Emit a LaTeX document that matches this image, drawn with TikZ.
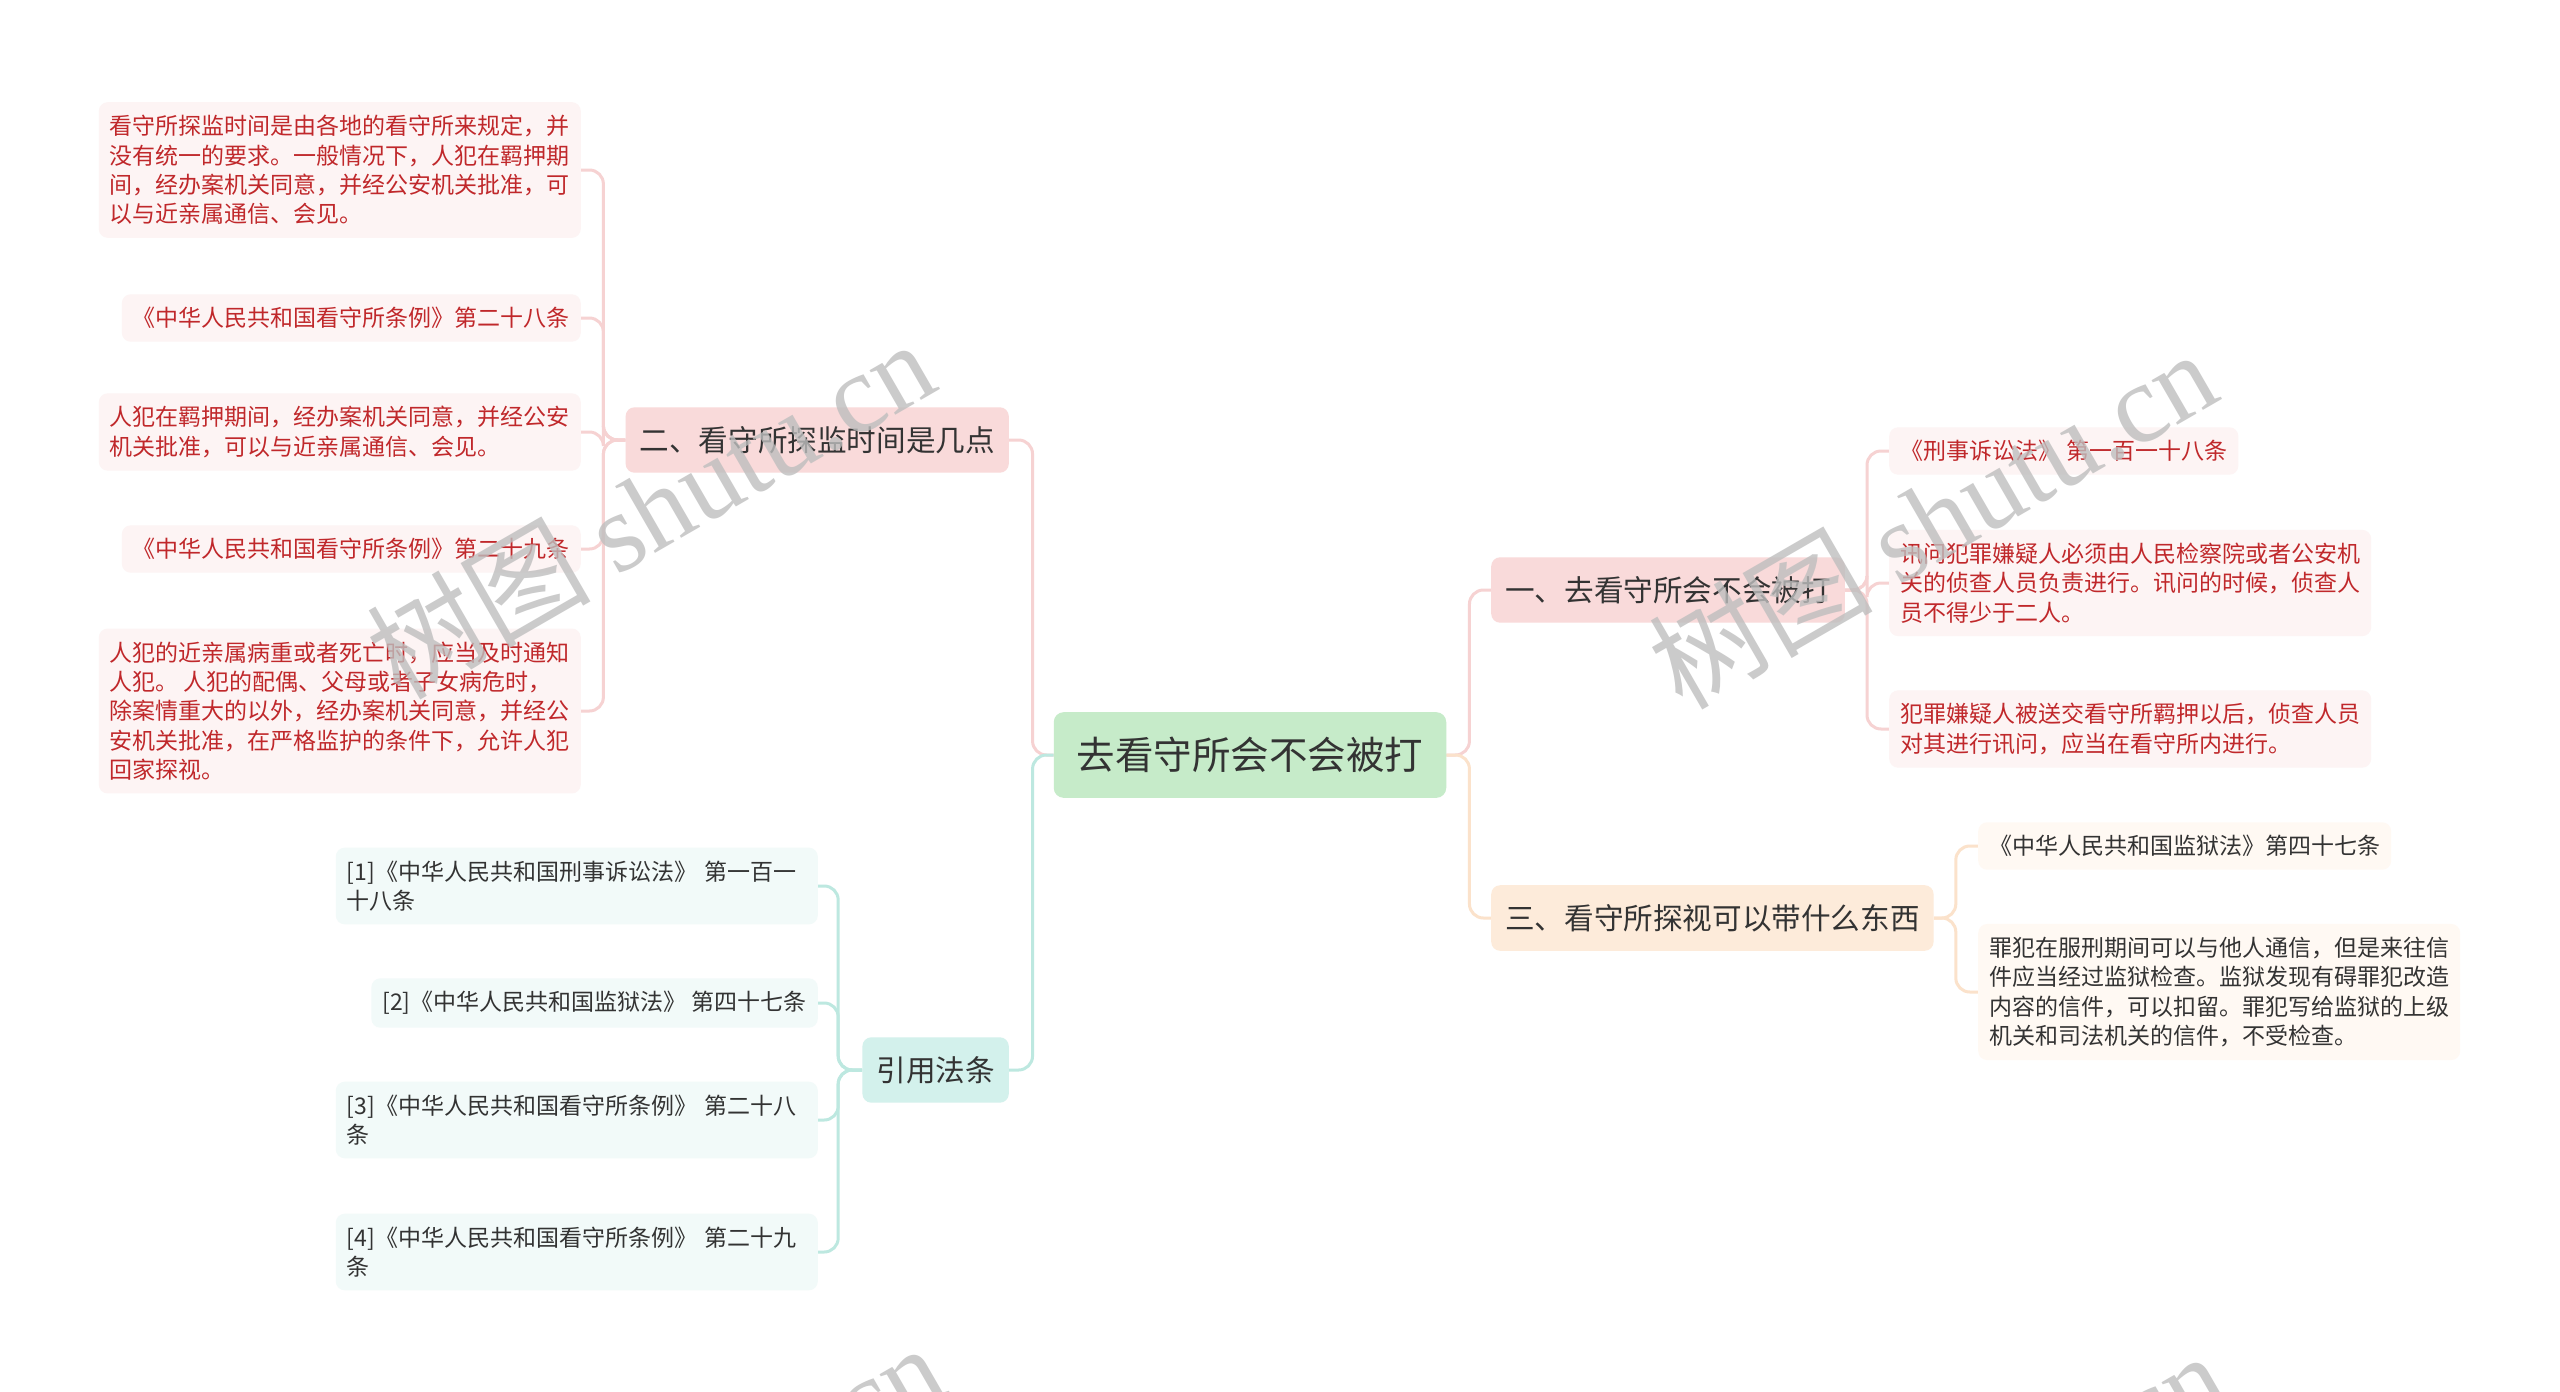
\documentclass[tikz,border=0pt]{standalone}
\usepackage{fontspec}
\usetikzlibrary{backgrounds}
\setmainfont{Noto Sans CJK SC}
\newfontfamily\wmlat{Liberation Serif}
\newfontfamily\wmcjk{Noto Sans CJK SC}
\definecolor{centerfill}{HTML}{C6EBC9}
\definecolor{pinkfill}{HTML}{F9DADA}
\definecolor{peachfill}{HTML}{FDEBDA}
\definecolor{tealfill}{HTML}{D3F1EC}
\definecolor{leafRfill}{HTML}{FDF4F4}
\definecolor{leafRtext}{HTML}{C0282B}
\definecolor{leafPfill}{HTML}{FFF9F3}
\definecolor{leafTfill}{HTML}{F2FAF9}
\definecolor{darktext}{HTML}{333333}
\definecolor{pinkline}{HTML}{F6D2D2}
\definecolor{tealline}{HTML}{BDE8E0}
\definecolor{peachline}{HTML}{FBE2CB}
\definecolor{wmgray}{HTML}{BEBEBE}
\begin{document}
\begin{tikzpicture}[x=1pt,y=-1pt,
  centerbox/.style={rounded corners=10pt, fill=centerfill, text=darktext, font=\fontsize{38.5}{46}\selectfont, inner xsep=23pt, inner ysep=25pt},
  branchbox/.style={rounded corners=9pt, text=darktext, font=\fontsize{29.6}{36}\selectfont, inner xsep=14pt, inner ysep=19pt},
  leafbox/.style={rounded corners=9pt, font=\fontsize{23}{29.4}\selectfont, inner xsep=11pt, inner ysep=13pt, align=left},
  leafR/.style={leafbox, fill=leafRfill, text=leafRtext},
  leafP/.style={leafbox, fill=leafPfill, text=darktext},
  leafT/.style={leafbox, fill=leafTfill, text=darktext},
  conn/.style={line width=3pt, rounded corners=14pt},
  wm/.style={text=wmgray, opacity=0.8, font=\fontsize{112}{120}\selectfont, inner sep=0pt}
]
\useasboundingbox (0,0) rectangle (2560,1392);

% nodes
\node[centerbox] (c) at (1250,755) {去看守所会不会被打};

\node[branchbox, fill=pinkfill, anchor=east] (b2) at (1009,440) {二、看守所探监时间是几点};
\node[branchbox, fill=tealfill, anchor=east] (bref) at (1009,1070) {引用法条};
\node[branchbox, fill=pinkfill, anchor=west] (b1) at (1491,590) {一、去看守所会不会被打};
\node[branchbox, fill=peachfill, anchor=west] (b3) at (1491,918) {三、看守所探视可以带什么东西};

\node[leafR, anchor=east] (l1) at (581,170) {看守所探监时间是由各地的看守所来规定，并\\没有统一的要求。一般情况下，人犯在羁押期\\间，经办案机关同意，并经公安机关批准，可\\以与近亲属通信、会见。};
\node[leafR, anchor=east] (l2) at (581,318) {《中华人民共和国看守所条例》第二十八条};
\node[leafR, anchor=east] (l3) at (581,432) {人犯在羁押期间，经办案机关同意，并经公安\\机关批准，可以与近亲属通信、会见。};
\node[leafR, anchor=east] (l4) at (581,549) {《中华人民共和国看守所条例》第二十九条};
\node[leafR, anchor=east] (l5) at (581,711) {人犯的近亲属病重或者死亡时，应当及时通知\\人犯。 人犯的配偶、父母或者子女病危时，\\除案情重大的以外，经办案机关同意，并经公\\安机关批准，在严格监护的条件下，允许人犯\\回家探视。};

\node[leafT, anchor=east, text width=460pt] (r1) at (818,886) {[1]《中华人民共和国刑事诉讼法》 第一百一\\十八条};
\node[leafT, anchor=east] (r2) at (818,1003) {[2]《中华人民共和国监狱法》 第四十七条};
\node[leafT, anchor=east, text width=460pt] (r3) at (818,1120) {[3]《中华人民共和国看守所条例》 第二十八\\条};
\node[leafT, anchor=east, text width=460pt] (r4) at (818,1252) {[4]《中华人民共和国看守所条例》 第二十九\\条};

\node[leafR, anchor=west] (a1) at (1889,451) {《刑事诉讼法》 第一百一十八条};
\node[leafR, anchor=west] (a2) at (1889,583) {讯问犯罪嫌疑人必须由人民检察院或者公安机\\关的侦查人员负责进行。讯问的时候，侦查人\\员不得少于二人。};
\node[leafR, anchor=west] (a3) at (1889,729) {犯罪嫌疑人被送交看守所羁押以后，侦查人员\\对其进行讯问，应当在看守所内进行。};

\node[leafP, anchor=west] (p1) at (1978,846) {《中华人民共和国监狱法》第四十七条};
\node[leafP, anchor=west] (p2) at (1978,992) {罪犯在服刑期间可以与他人通信，但是来往信\\件应当经过监狱检查。监狱发现有碍罪犯改造\\内容的信件，可以扣留。罪犯写给监狱的上级\\机关和司法机关的信件，不受检查。};

% connectors (behind nodes)
\begin{scope}[on background layer]
\fill[white] (0,0) rectangle (2560,1392);
\draw[conn, pinkline] (c.west) -- ++(-21,0) |- (b2.east);
\draw[conn, tealline] (c.west) -- ++(-21,0) |- (bref.east);
\draw[conn, pinkline] (c.east) -- ++(23,0) |- (b1.west);
\draw[conn, peachline] (c.east) -- ++(23,0) |- (b3.west);
\foreach \n in {l1,l2,l3,l4,l5}{
  \draw[conn, pinkline] (b2.west) -- ++(-22,0) |- (\n.east);
}
\foreach \n in {r1,r2,r3,r4}{
  \draw[conn, tealline] (bref.west) -- ++(-24,0) |- (\n.east);
}
\foreach \n in {a1,a2,a3}{
  \draw[conn, pinkline] (b1.east) -- ++(22,0) |- (\n.west);
}
\foreach \n in {p1,p2}{
  \draw[conn, peachline] (b3.east) -- ++(22,0) |- (\n.west);
}
\end{scope}

% watermarks
\begin{scope}
\clip (0,0) rectangle (2560,1392);
\node[wm, rotate=30] (w1) at (650,508) {{\wmcjk 树图} {\wmlat shutu.cn}};
\node[wm, rotate=30] (w2) at (1932,518) {{\wmcjk 树图} {\wmlat shutu.cn}};
\node[wm, rotate=30] (w3) at (660,1512) {{\wmcjk 树图} {\wmlat shutu.cn}};
\node[wm, rotate=30] (w4) at (1942,1520) {{\wmcjk 树图} {\wmlat shutu.cn}};
\end{scope}
\end{tikzpicture}
\end{document}
